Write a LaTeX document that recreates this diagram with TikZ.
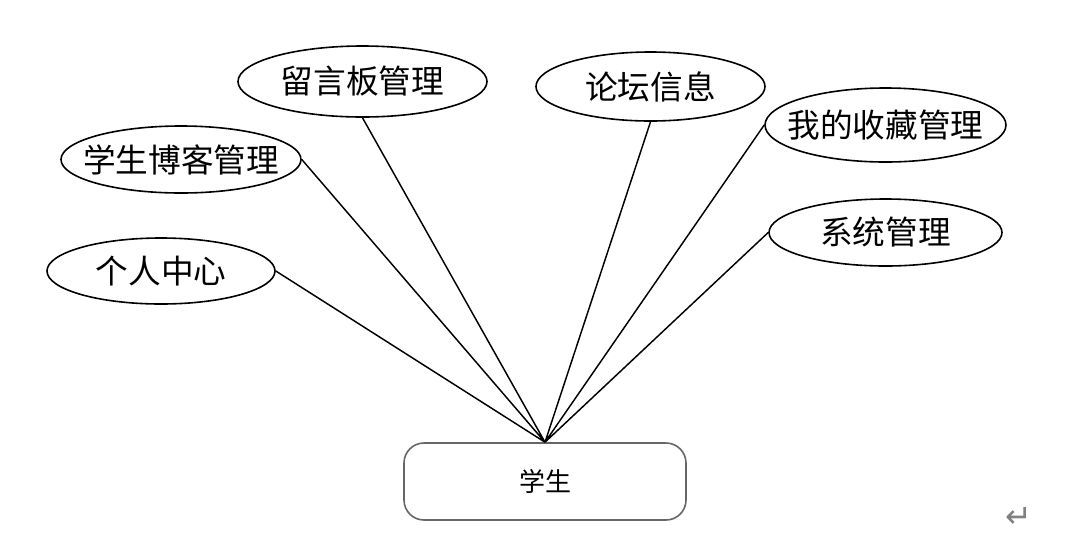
\documentclass[tikz,border=0pt]{standalone}
\usepackage{fontspec}
\newfontfamily\cjk{Noto Sans CJK SC}
\newfontfamily\sym{DejaVu Sans}
\usetikzlibrary{shapes.geometric}
\tikzset{fn/.style={ellipse,draw,line width=1.2pt,inner ysep=0,inner xsep=-10pt,font=\cjk\fontsize{24.5}{26}\selectfont},
stubox/.style={draw=black!60,line width=1.2pt,rounded corners=15pt,minimum width=282*0.75pt,minimum height=77*0.75pt,font=\cjk\fontsize{19.5}{21}\selectfont}}
\begin{document}
\begin{tikzpicture}[x=0.75pt,y=-0.75pt,line width=1.1pt]
\useasboundingbox(0,0)rectangle(1072,544);
\node[stubox](stu)at(545,481.5){学生};
\node[fn,minimum width=228*0.75pt,minimum height=66*0.75pt](grzx)at(161,271){个人中心};
\node[fn,minimum width=240*0.75pt,minimum height=67*0.75pt](bkgl)at(181,159.5){学生博客管理};
\node[fn,minimum width=249*0.75pt,minimum height=71*0.75pt](lybgl)at(362.5,81.5){留言板管理};
\node[fn,minimum width=229*0.75pt,minimum height=69*0.75pt](ltxx)at(650.5,86.5){论坛信息};
\node[fn,minimum width=241*0.75pt,minimum height=74*0.75pt](scgl)at(885.5,125){我的收藏管理};
\node[fn,minimum width=233*0.75pt,minimum height=67*0.75pt](xtgl)at(885.5,232.5){系统管理};
\draw(stu.north)--(grzx.east)(stu.north)--(bkgl.east)(stu.north)--(lybgl.south);
\draw(stu.north)--(ltxx.south)(stu.north)--(scgl.west)(stu.north)--(xtgl.west);
\node[text=black!50,font=\sym\fontsize{24}{26}\selectfont,inner sep=0](ret)at(1019,517){↵};
\end{tikzpicture}
\end{document}
